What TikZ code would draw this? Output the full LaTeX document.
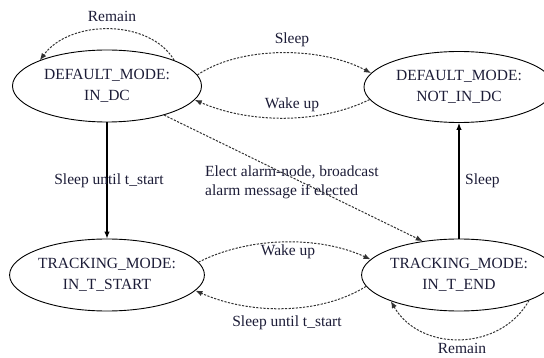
\documentclass[tikz,border=0pt]{standalone}
\usepackage{fontspec}
\setmainfont{Liberation Serif}
\usetikzlibrary{shapes.geometric,arrows.meta}
\definecolor{txt}{RGB}{28,28,55}
\definecolor{dline}{RGB}{50,50,50}
\tikzset{
  state/.style={draw=black,line width=0.9pt,ellipse,inner sep=0pt,text=txt,
    align=center,font=\fontsize{15.5}{20.5}\selectfont},
  lbl/.style={text=txt,font=\fontsize{15.5}{19}\selectfont,inner sep=0pt},
  dashline/.style={draw=dline,line width=1pt,dash pattern=on 2.2pt off 1.4pt,
    -{Latex[length=7pt,width=5.5pt]}},
  solidline/.style={draw=black,line width=1.1pt,-{Latex[length=7pt,width=5.5pt]}}
}
\begin{document}
\begin{tikzpicture}[x=1pt,y=-1pt]
\useasboundingbox (0,0) rectangle (544,358);
\node[state,minimum width=189pt,minimum height=72pt] (dc) at (107,86) {DEFAULT\_MODE:\\IN\_DC};
\node[state,minimum width=190pt,minimum height=71pt] (ndc) at (459,87) {DEFAULT\_MODE:\\NOT\_IN\_DC};
\node[state,minimum width=189pt,minimum height=72pt] (ts) at (107,275) {TRACKING\_MODE:\\IN\_T\_START};
\node[state,minimum width=190pt,minimum height=72pt] (te) at (459,275) {TRACKING\_MODE:\\IN\_T\_END};

% Remain top
\draw[dashline] (dc.21) .. controls (150,19) and (70,19) .. (dc.159);
\node[lbl] (rm1) at (112,16) {Remain};

% Sleep / Wake up top
\draw[dashline] (dc.7) .. controls (240,46) and (320,46) .. (ndc.171);
\node[lbl] (sl1) at (292,40) {Sleep};
\draw[dashline] (ndc.188) .. controls (320,124) and (250,124) .. (dc.-9);
\node[lbl] (wu1) at (292,105) {Wake up};

% left vertical
\draw[solidline] (dc.south) -- (ts.north);
\node[lbl] (su1) at (109,181) {Sleep until t\_start};

% diagonal
\draw[dashline] (dc.-27) -- (te.137);
\node[lbl,anchor=west,align=left] (el) at (205,182.5) {Elect alarm-node, broadcast\\alarm message if elected};

% bottom arcs
\draw[dashline] (ts.8) .. controls (250,236) and (320,236) .. (te.170);
\node[lbl] (wu2) at (288,252) {Wake up};
\draw[dashline] (te.187) .. controls (320,315) and (250,315) .. (ts.-10);
\node[lbl] (su2) at (287,323) {Sleep until t\_start};

% right vertical
\draw[solidline] (te.north) -- (ndc.south);
\node[lbl,anchor=west] (sl2) at (465,181) {Sleep};

% Remain bottom
\draw[dashline] (te.-20) .. controls (500,352) and (420,352) .. (te.201);
\node[lbl] (rm2) at (462,348) {Remain};
\end{tikzpicture}
\end{document}
